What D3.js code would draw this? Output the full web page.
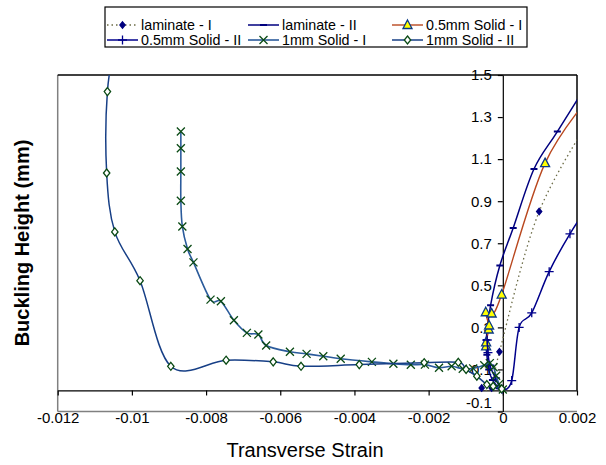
<!DOCTYPE html>
<meta charset="utf-8">
<style>
    body {
        margin: 0;
        background: #fff;
        font-family: "Liberation Sans", Arial, sans-serif;
    }

    .axis text {
        font-family: "Liberation Sans", Arial, sans-serif;
        font-size: 15px;
        fill: #000;
    }

    .axis path,
    .axis line {
        stroke: #000;
        stroke-width: 1.2px;
    }

    .legend text {
        font-size: 14.3px;
        dominant-baseline: middle;
    }
</style>

<body>
    <script src="https://cdn.jsdelivr.net/npm/d3@7"></script>

    <script>

        // strain / buckling height pairs
        var laminateI = [[-0.00057, 0.012], [-0.0003, 0.012], [-0.00009, 0.184], [0.00098, 0.851], [0.0025, 1.33]];
        var laminateII = [[-0.0001, 0.01], [-0.00028, 0.05], [-0.00038, 0.1], [-0.00043, 0.17], [-0.00045, 0.24],
            [-0.00033, 0.405], [-0.00008, 0.594], [0.00028, 0.773], [0.00084, 1.053], [0.00147, 1.231], [0.0025, 1.52]];
        var solid05I = [[-0.00045, 0.21], [-0.00045, 0.229], [-0.00038, 0.29], [-0.00037, 0.309], [-0.00046, 0.372],
            [-0.0003, 0.366], [-0.00003, 0.456], [0.00114, 1.081], [0.0025, 1.43]];
        var solid05II = [[-0.00042, 0.24], [-0.0004, 0.18], [-0.00035, 0.12], [-0.0002, 0.06], [-0.00002, 0.006],
            [0.00024, 0.047], [0.00044, 0.300], [0.00078, 0.369], [0.00125, 0.565], [0.00181, 0.745], [0.0025, 0.93]];
        var solid1I = [[0, 0.005], [-0.0001, 0.03], [-0.00018, 0.07], [-0.00025, 0.11], [-0.00035, 0.13], [-0.0005, 0.12],
            [-0.0008, 0.105], [-0.00108, 0.103], [-0.00138, 0.115], [-0.00172, 0.108], [-0.0021, 0.123], [-0.00248, 0.122],
            [-0.00295, 0.127], [-0.00353, 0.136], [-0.00437, 0.151], [-0.00484, 0.163], [-0.00529, 0.174], [-0.00574, 0.184],
            [-0.00638, 0.214], [-0.00659, 0.266], [-0.0069, 0.274], [-0.00725, 0.334], [-0.0076, 0.424], [-0.00788, 0.432],
            [-0.00834, 0.609], [-0.0085, 0.673], [-0.00864, 0.78], [-0.00868, 0.902], [-0.00868, 1.041], [-0.00868, 1.152],
            [-0.00868, 1.231]];
        var solid1II = [[-0.00003, 0.008], [-0.00026, 0.02], [-0.00043, 0.028], [-0.0007, 0.068], [-0.00099, 0.10],
            [-0.0012, 0.134], [-0.00212, 0.132], [-0.00387, 0.123], [-0.00544, 0.115], [-0.00619, 0.136], [-0.00746, 0.144],
            [-0.00895, 0.115], [-0.00978, 0.522], [-0.01046, 0.754], [-0.01068, 1.034], [-0.01066, 1.421], [-0.0104, 1.7]];

        var seriesNames = ["laminate - I", "laminate - II", "0.5mm Solid - I", "0.5mm Solid - II", "1mm Solid - I", "1mm Solid - II"];
        var seriesData = [laminateI, laminateII, solid05I, solid05II, solid1I, solid1II];

        var xTicks = [-0.012, -0.01, -0.008, -0.006, -0.004, -0.002, 0, 0.002];
        var yTicks = [-0.1, 0.1, 0.3, 0.5, 0.7, 0.9, 1.1, 1.3, 1.5];

        var styles = [
            { line: "#6b6b45", dash: "1.5,3", width: 1.3, marker: "dot", fill: "#000080", stroke: "#000080" },
            { line: "#00007f", dash: null, width: 1.5, marker: "dash", fill: "none", stroke: "#00007f" },
            { line: "#b9481f", dash: null, width: 1.4, marker: "tri", fill: "#ffff00", stroke: "#0b3a84" },
            { line: "#00008b", dash: null, width: 1.5, marker: "plus", fill: "none", stroke: "#00008b" },
            { line: "#2b5b9b", dash: null, width: 1.6, marker: "cross", fill: "none", stroke: "#0a4a14" },
            { line: "#173f86", dash: null, width: 1.5, marker: "diamond", fill: "#fff", stroke: "#0a4a14" }
        ];

        function markerPath(type) {
            switch (type) {
                case "dot": return "M0,-3.2L2.6,0L0,3.2L-2.6,0Z";
                case "dash": return "M-3.5,0H3.5";
                case "tri": return "M0,-5L4.5,3.5L-4.5,3.5Z";
                case "plus": return "M-4.5,0H4.5M0,-4.5V4.5";
                case "cross": return "M-4,-4L4,4M-4,4L4,-4";
                case "diamond": return "M0,-4L3.2,0L0,4L-3.2,0Z";
            }
        }

        var width = 606,
            height = 465;

        var x = d3.scaleLinear().domain([-0.012, 0.002]).range([57.7, 577]);
        var y = d3.scaleLinear().domain([-0.1, 1.5]).range([411.5, 75]);

        var svg = d3.select("body").append("svg")
            .attr("width", width)
            .attr("height", height);

        svg.append("defs").append("clipPath").attr("id", "plotClip")
            .append("rect")
            .attr("x", x.range()[0]).attr("y", y.range()[1])
            .attr("width", x.range()[1] - x.range()[0])
            .attr("height", y.range()[0] - y.range()[1]);

        // plot frame: grey left/bottom, black top/right
        svg.append("line").attr("x1", x(-0.012)).attr("x2", x(-0.012)).attr("y1", y(1.5)).attr("y2", y(-0.1))
            .attr("stroke", "#808080").attr("stroke-width", 1.5);
        svg.append("line").attr("x1", x(-0.012)).attr("x2", x(0.002)).attr("y1", y(-0.1)).attr("y2", y(-0.1))
            .attr("stroke", "#808080").attr("stroke-width", 1.5);
        svg.append("line").attr("x1", x(-0.012)).attr("x2", x(0.002)).attr("y1", y(1.5)).attr("y2", y(1.5))
            .attr("stroke", "#000").attr("stroke-width", 1.5);
        svg.append("line").attr("x1", x(0.002)).attr("x2", x(0.002)).attr("y1", y(1.5)).attr("y2", y(0))
            .attr("stroke", "#000").attr("stroke-width", 1.5);

        var fmt = function (d) { return String(+d.toFixed(3)); };

        var xAxis = svg.append("g")
            .attr("class", "axis")
            .attr("transform", "translate(0," + y(0) + ")")
            .call(d3.axisBottom(x).tickValues(xTicks).tickSize(5).tickSizeOuter(0).tickFormat(fmt));
        xAxis.selectAll("text").attr("y", 33).attr("dy", null);

        var yAxis = svg.append("g")
            .attr("class", "axis")
            .attr("transform", "translate(" + x(0) + ",0)")
            .call(d3.axisLeft(y).tickValues(yTicks).tickSize(5).tickPadding(6).tickSizeOuter(0).tickFormat(fmt));
        yAxis.selectAll("text").filter(function (d) { return d === -0.1; }).attr("dy", "-0.25em");

        svg.append("text")
            .attr("x", 305).attr("y", 457)
            .attr("text-anchor", "middle")
            .style("font-size", "20px")
            .text("Transverse Strain");

        svg.append("text")
            .attr("transform", "translate(29,243) rotate(-90)")
            .attr("text-anchor", "middle")
            .style("font-size", "20px")
            .style("font-weight", "bold")
            .text("Buckling Height (mm)");

        var line = d3.line()
            .x(function (d) { return x(d[0]); })
            .y(function (d) { return y(d[1]); })
            .curve(d3.curveCardinal);

        var plot = svg.append("g").attr("clip-path", "url(#plotClip)");

        var series = plot.selectAll("g.series")
            .data(seriesData)
            .enter().append("g")
            .attr("class", "series");

        series.append("path")
            .attr("fill", "none")
            .attr("stroke", function (d, i) { return styles[i].line; })
            .attr("stroke-width", function (d, i) { return styles[i].width; })
            .attr("stroke-dasharray", function (d, i) { return styles[i].dash; })
            .attr("d", line);

        series.each(function (pts, i) {
            var st = styles[i];
            d3.select(this).selectAll("path.marker")
                .data(pts)
                .enter().append("path")
                .attr("class", "marker")
                .attr("transform", function (d) { return "translate(" + x(d[0]) + "," + y(d[1]) + ")"; })
                .attr("d", markerPath(st.marker))
                .attr("fill", st.fill)
                .attr("stroke", st.stroke)
                .attr("stroke-width", st.marker === "dash" ? 2 : 1.3);
        });

        // legend
        var legendCols = [107, 248, 392],
            legendRows = [25, 40];

        svg.append("rect")
            .attr("x", 105).attr("y", 7)
            .attr("width", 422).attr("height", 40)
            .attr("fill", "#fff")
            .attr("stroke", "#000")
            .attr("stroke-width", 1.2);

        var legend = svg.append("g").attr("class", "legend")
            .selectAll("g")
            .data(seriesNames)
            .enter().append("g")
            .attr("transform", function (d, i) {
                return "translate(" + legendCols[i % 3] + "," + legendRows[Math.floor(i / 3)] + ")";
            });

        legend.append("line")
            .attr("x1", 0).attr("x2", 31)
            .attr("stroke", function (d, i) { return styles[i].line; })
            .attr("stroke-width", function (d, i) { return styles[i].width; })
            .attr("stroke-dasharray", function (d, i) { return styles[i].dash; });

        legend.append("path")
            .attr("transform", "translate(15.5,0)")
            .attr("d", function (d, i) { return markerPath(styles[i].marker); })
            .attr("fill", function (d, i) { return styles[i].fill; })
            .attr("stroke", function (d, i) { return styles[i].stroke; })
            .attr("stroke-width", function (d, i) { return styles[i].marker === "dash" ? 2 : 1.3; });

        legend.append("text")
            .attr("x", 34)
            .attr("y", 1)
            .text(function (d) { return d; });

    </script>

</body>

</html>
